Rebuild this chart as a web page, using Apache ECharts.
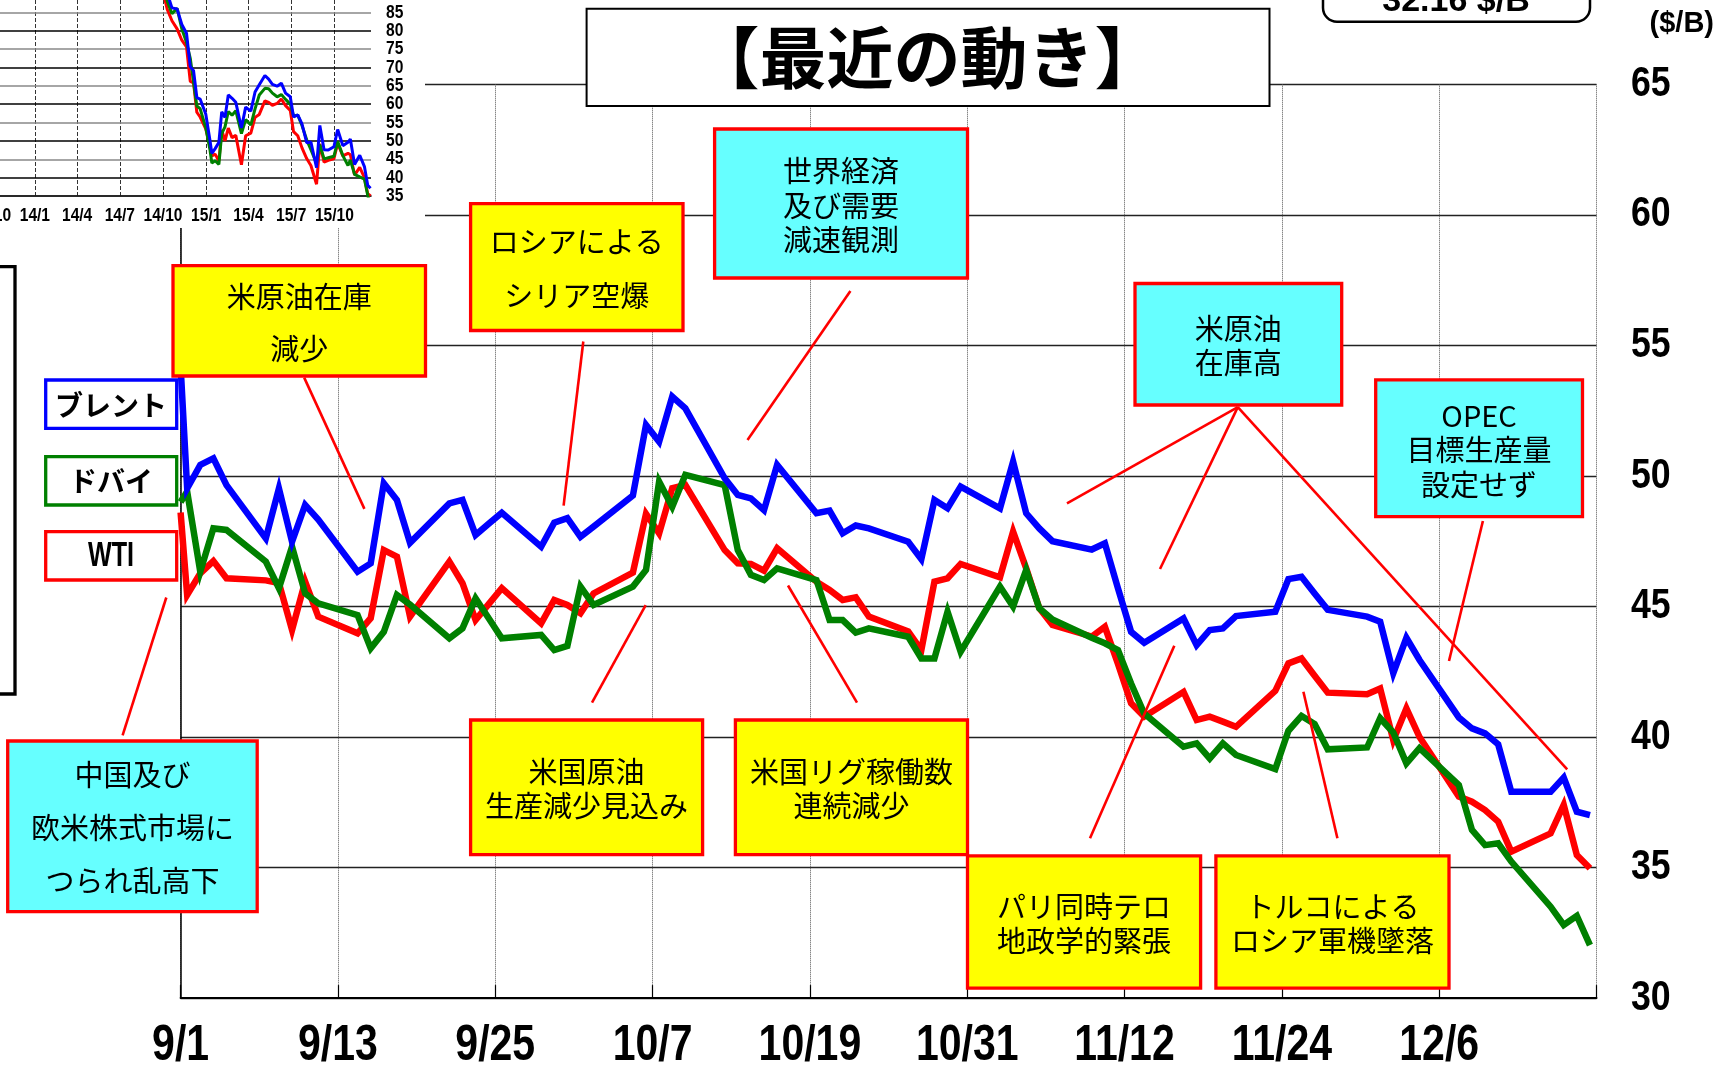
<!DOCTYPE html>
<html><head><meta charset="utf-8">
<script src="https://cdn.jsdelivr.net/npm/echarts@6/dist/echarts.min.js"></script>
<style>html,body{margin:0;padding:0;background:#fff;}#c{width:1716px;height:1067px;}</style>
</head><body><div id="c"></div>
<script>
// ---------- main chart data (x = days after 9/1, trading-day midpoints) ----------
const tickLabels = ['9/1','9/13','9/25','10/7','10/19','10/31','11/12','11/24','12/6'];
const mainYTicks = [30,35,40,45,50,55,60,65];
const tradeDays = [0,0.5,1.5,2.5,3.5,6.5,7.5,8.5,9.5,10.5,13.5,14.5,15.5,16.5,17.5,20.5,21.5,22.5,23.5,24.5,27.5,28.5,29.5,30.5,31.5,34.5,35.5,36.5,37.5,38.5,41.5,42.5,43.5,44.5,45.5,48.5,49.5,50.5,51.5,52.5,55.5,56.5,57.5,58.5,59.5,62.5,63.5,64.5,65.5,66.5,69.5,70.5,71.5,72.5,73.5,76.5,77.5,78.5,79.5,80.5,83.5,84.5,85.5,86.5,87.5,90.5,91.5,92.5,93.5,94.5,97.5,98.5,99.5,100.5,101.5,104.5,105.5,106.5,107.5];
const brent = [54.2,49.52,50.42,50.67,49.65,47.61,49.52,47.48,48.89,48.33,46.33,46.65,49.72,49.08,47.44,48.95,49.08,47.74,48.17,48.59,47.29,48.21,48.38,47.67,48.06,49.25,51.95,51.31,53.04,52.59,49.91,49.27,49.14,48.69,50.42,48.57,48.67,47.8,48.1,47.99,47.48,46.81,49.08,48.76,49.59,48.76,50.55,48.57,47.99,47.5,47.18,47.42,45.69,44.03,43.61,44.54,43.52,44.1,44.16,44.63,44.8,46.05,46.14,45.5,44.87,44.61,44.42,42.45,43.8,42.95,40.75,40.33,40.14,39.72,37.9,37.9,38.45,37.14,37.01];
const dubai = [49.0,49.4,46.33,47.99,47.93,46.72,45.7,47.29,45.5,45.12,44.67,43.4,44.03,45.44,45.07,43.78,44.16,45.31,44.55,43.78,43.91,43.33,43.49,45.76,45.06,45.76,46.4,49.78,48.82,50.04,49.65,47.16,46.21,46.01,46.46,46.01,44.48,44.48,44.0,44.16,43.84,43.01,43.01,44.8,43.27,45.76,45.0,46.4,44.93,44.5,43.8,43.59,43.33,42.05,40.9,39.63,39.76,39.18,39.76,39.31,38.77,40.24,40.81,40.5,39.53,39.6,40.72,40.17,38.99,39.57,38.16,36.44,35.86,35.93,35.23,33.5,32.8,33.15,32.03];
const wti = [48.6,45.44,46.27,46.74,46.08,46.0,45.9,44.1,45.95,44.61,43.97,44.55,47.16,46.91,44.61,46.72,45.89,44.48,45.09,45.7,44.35,45.25,45.06,44.74,45.5,46.3,48.55,47.8,49.53,49.65,47.16,46.65,46.63,46.37,47.23,45.95,45.63,45.25,45.35,44.61,44.04,43.33,45.95,46.08,46.63,46.12,47.87,46.46,44.93,44.29,43.85,44.22,42.8,41.29,40.78,41.73,40.65,40.78,40.59,40.39,41.77,42.82,43.01,42.35,41.7,41.64,41.86,39.88,41.1,40.0,37.72,37.52,37.2,36.76,35.61,36.31,37.4,35.48,34.97];

// ---------- inset (long term) data ----------
const insetDates = ['2014-10-01','2014-10-10','2014-10-20','2014-10-31','2014-11-10','2014-11-20','2014-11-28','2014-12-05','2014-12-12','2014-12-19','2014-12-31','2015-01-09','2015-01-13','2015-01-20','2015-01-28','2015-02-03','2015-02-10','2015-02-17','2015-02-25','2015-03-05','2015-03-17','2015-03-26','2015-04-06','2015-04-15','2015-04-24','2015-05-06','2015-05-14','2015-05-22','2015-06-01','2015-06-10','2015-06-19','2015-06-29','2015-07-06','2015-07-15','2015-07-24','2015-08-03','2015-08-12','2015-08-24','2015-08-31','2015-09-09','2015-09-18','2015-09-30','2015-10-08','2015-10-19','2015-10-30','2015-11-04','2015-11-13','2015-11-24','2015-12-04','2015-12-11','2015-12-17'];
const insetBrent = [94.2,90.2,86.2,85.9,81.7,79.3,70.2,69.1,61.8,61.4,57.3,50.1,46.6,47.9,49.6,57.9,56.4,62.5,61.6,60.5,53.5,59.2,58.1,63.3,65.3,67.8,66.8,65.4,64.9,65.7,63.0,62.0,56.5,57.1,54.6,49.5,49.7,42.7,54.2,47.6,47.5,48.4,53.1,48.7,49.6,50.5,43.6,46.1,43.0,37.9,37.1];
const insetDubai = [92.5,88.0,84.6,86.1,80.5,76.8,72.5,66.0,59.5,58.8,53.6,47.6,44.0,44.6,43.6,52.0,53.8,58.0,57.0,58.2,52.0,55.8,54.3,58.7,62.5,64.3,64.2,63.0,62.0,62.6,61.3,60.0,56.8,57.0,54.2,50.3,47.6,43.9,49.0,45.1,45.4,45.8,49.8,46.0,43.3,44.8,40.9,40.2,39.6,35.2,32.0];
const insetWti = [90.7,85.8,82.7,80.5,77.4,75.6,66.2,65.8,57.8,56.5,53.3,48.4,45.9,46.4,44.5,53.0,50.0,53.5,50.9,51.5,43.5,51.4,52.1,56.4,57.2,60.9,60.5,59.7,60.2,61.4,59.6,58.3,52.5,51.4,48.1,45.2,43.3,38.2,49.2,44.2,44.7,45.1,49.4,45.9,46.6,46.3,40.7,42.8,40.0,35.6,35.0];
const insetTickDates = ['2013-10-01','2014-01-01','2014-04-01','2014-07-01','2014-10-01','2015-01-01','2015-04-01','2015-07-01','2015-10-01'];
const insetTickLabels = ['13/10','14/1','14/4','14/7','14/10','15/1','15/4','15/7','15/10'];
const insetYTicks = [35,40,45,50,55,60,65,70,75,80,85,90];
const insetStart = '2013-09-01', insetEnd = '2015-12-18';

function dayOf(s){const p=s.split('-').map(Number);const b=insetStart.split('-').map(Number);
  return (Date.UTC(p[0],p[1]-1,p[2])-Date.UTC(b[0],b[1]-1,b[2]))/86400000;}
const insetTickDays = insetTickDates.map(dayOf);

const SANS = '"Liberation Sans","Arimo",sans-serif';
const JP = '"Noto Sans CJK JP","Noto Sans",sans-serif';

const chart = echarts.init(document.getElementById('c'), null, {renderer:'canvas'});

function mk(name, arr, color, z){
  return {name, type:'line', xAxisIndex:0, yAxisIndex:0, z, showSymbol:false, symbol:'none', silent:true,
    data: tradeDays.map((d,i)=>[d, arr[i]]), lineStyle:{color, width:6.5, join:'miter'}, animation:false};
}
function mkInset(name, arr, color, extra){
  return Object.assign({name, type:'line', xAxisIndex:1, yAxisIndex:1, z:11, showSymbol:false, symbol:'none', silent:true,
    data: insetDates.map((d,i)=>[dayOf(d), arr[i]]), lineStyle:{color, width:3}, animation:false}, extra||{});
}

const option = {
  animation:false,
  backgroundColor:'#fff',
  grid:[
    {left:180.6, top:84.3, width:1415.9, height:913.8, outerBoundsMode:'none', containLabel:false},
    {left:-22.4, top:-6.07, width:393.4, height:202.07, outerBoundsMode:'none', containLabel:false}
  ],
  xAxis:[
    {type:'value', gridIndex:0, min:0, max:108, interval:12,
     axisLine:{show:true, onZero:false, lineStyle:{color:'#000', width:2}},
     axisTick:{show:true, inside:true, length:13, lineStyle:{color:'#000', width:1.2}},
     axisLabel:{show:false},
     splitLine:{show:true, lineStyle:{color:'#555', width:1, type:[1,1]}}},
    {type:'value', gridIndex:1, min:0, max:dayOf(insetEnd), z:10,
     axisLine:{show:true, onZero:false, lineStyle:{color:'#000', width:1.6}},
     axisTick:{show:false}, axisLabel:{show:false}, splitLine:{show:false}}
  ],
  yAxis:[
    {type:'value', gridIndex:0, position:'right', min:30, max:65, interval:5,
     axisLine:{show:true, lineStyle:{color:'#000', width:1.5}},
     axisTick:{show:false}, axisLabel:{show:false},
     splitLine:{show:true, lineStyle:{color:'#222', width:1.3}}},
    {type:'value', gridIndex:1, position:'right', min:35, max:90, interval:5, z:10,
     axisLine:{show:true, lineStyle:{color:'#000', width:1.6}},
     axisTick:{show:false}, axisLabel:{show:false},
     splitLine:{show:true, lineStyle:{color:['#888','#000'], width:1.6}}}
  ],
  series:[
    mk('WTI', wti, '#ff0000', 2),
    mk('ドバイ', dubai, '#008000', 3),
    mk('ブレント', brent, '#0000ff', 4),
    mkInset('WTI', insetWti, '#ff0000'),
    mkInset('ドバイ', insetDubai, '#008000'),
    mkInset('ブレント', insetBrent, '#0000ff', {markLine:{silent:true, symbol:['none','none'], label:{show:false},
       lineStyle:{type:'dashed', color:'#333', width:1}, data: insetTickDays.map(v=>({xAxis:v})), animation:false}})
  ]
};
chart.setOption(option);

// ---------- annotations & narrow tick labels ----------
const boxes = [
 {x:173, y:265.7, w:252.5, h:110.3, fill:'#ffff00', text:'米原油在庫\n減少', lh:51.3},
 {x:470.6, y:203.6, w:212.4, h:126.9, fill:'#ffff00', text:'ロシアによる\nシリア空爆', lh:53.6},
 {x:714.6, y:129, w:252.9, h:149, fill:'#66ffff', text:'世界経済\n及び需要\n減速観測', lh:34.5},
 {x:1135, y:283.5, w:206.7, h:121.5, fill:'#66ffff', text:'米原油\n在庫高', lh:34},
 {x:1375.7, y:379.8, w:206.8, h:136.8, fill:'#66ffff', text:'OPEC\n目標生産量\n設定せず', lh:34.5},
 {x:7.7, y:741, w:249.5, h:170.6, fill:'#66ffff', text:'中国及び\n欧米株式市場に\nつられ乱高下', lh:53},
 {x:470.6, y:720, w:232, h:134.7, fill:'#ffff00', text:'米国原油\n生産減少見込み', lh:34},
 {x:735.4, y:720, w:232.1, h:134.7, fill:'#ffff00', text:'米国リグ稼働数\n連続減少', lh:34},
 {x:967.5, y:855.8, w:233.1, h:132.4, fill:'#ffff00', text:'パリ同時テロ\n地政学的緊張', lh:34},
 {x:1215.9, y:855.8, w:233.1, h:132.4, fill:'#ffff00', text:'トルコによる\nロシア軍機墜落', lh:34}
];
const callouts = [[304.2,377.6,364.4,508.9],[583.3,341.5,563.6,505.6],[850.4,291.1,747.5,440],[1237.8,407.1,1067,503.4],[1237.8,407.1,1160,569],[1237.8,407.1,1567.2,769.4],[1482.9,521,1449,661],[122.6,735.4,166.3,597.5],[592,702.6,645.7,605.2],[857,702.6,788,585.5],[1090,838.3,1174.3,645.7],[1337.4,838.3,1303.4,691.7]];
const legendBoxes = [
 {y:380, color:'#0000ff', text:'ブレント', font:JP, size:28, sx:1},
 {y:456.7, color:'#008000', text:'ドバイ', font:JP, size:28, sx:1},
 {y:531.7, color:'#ff0000', text:'WTI', font:SANS, size:35, sx:0.72}
];

const g = [];
g.push({type:'rect', z:3, silent:true, shape:{x:0,y:0,width:425,height:228}, style:{fill:'#fff'}});
g.push({type:'rect', z:100, silent:true, shape:{x:-30,y:266.7,width:45,height:427.3}, style:{fill:'none', stroke:'#000', lineWidth:3.3}});
callouts.forEach(c=>g.push({type:'line', z:99, silent:true, shape:{x1:c[0],y1:c[1],x2:c[2],y2:c[3]}, style:{stroke:'#ff0000', lineWidth:2.6}}));
boxes.forEach(b=>{
  g.push({type:'rect', z:100, silent:true, shape:{x:b.x,y:b.y,width:b.w,height:b.h}, style:{fill:b.fill, stroke:'#ff0000', lineWidth:3.3}});
  g.push({type:'text', z:101, silent:true, x:b.x+b.w/2, y:b.y+b.h/2+2, style:{text:b.text, fill:'#000', fontSize:29, fontFamily:JP, fontWeight:'normal', align:'center', verticalAlign:'middle', lineHeight:b.lh}});
});
legendBoxes.forEach(l=>{
  g.push({type:'rect', z:100, silent:true, shape:{x:45.7,y:l.y,width:131,height:48.3}, style:{fill:'#fff', stroke:l.color, lineWidth:3.3}});
  g.push({type:'text', z:101, silent:true, x:111, y:l.y+25, scaleX:l.sx, style:{text:l.text, fill:'#000', fontSize:l.size, fontFamily:l.font, fontWeight:'bold', align:'center', verticalAlign:'middle'}});
});
g.push({type:'rect', z:100, silent:true, shape:{x:586.6,y:8.8,width:682.9,height:97.2}, style:{fill:'#fff', stroke:'#000', lineWidth:2}});
g.push({type:'text', z:101, silent:true, x:927, y:58, style:{text:'【最近の動き】', fill:'#000', fontSize:67, fontFamily:JP, fontWeight:'bold', align:'center', verticalAlign:'middle'}});
g.push({type:'rect', z:100, silent:true, shape:{x:1323,y:-40,width:267,height:61.7,r:14}, style:{fill:'#fff', stroke:'#000', lineWidth:2.5}});
g.push({type:'text', z:101, silent:true, x:1456, y:19, style:{text:'32.16 $/B', fill:'#000', fontSize:34, fontFamily:SANS, fontWeight:'bold', align:'center', verticalAlign:'bottom'}});
g.push({type:'text', z:101, silent:true, x:1714, y:24, style:{text:'($/B)', fill:'#000', fontSize:29, fontFamily:SANS, fontWeight:'bold', align:'right', verticalAlign:'middle'}});

// tick labels placed through the axes' own scales (condensed look via scaleX)
tickLabels.forEach((t,i)=>{
  const px = chart.convertToPixel({xAxisIndex:0}, i*12);
  g.push({type:'text', z:101, silent:true, x:px, y:1046, scaleX:0.82, style:{text:t, fill:'#000', fontSize:50, fontFamily:SANS, fontWeight:'bold', align:'center', verticalAlign:'middle'}});
});
mainYTicks.forEach(v=>{
  const py = chart.convertToPixel({yAxisIndex:0}, v);
  g.push({type:'text', z:101, silent:true, x:1631, y:py, scaleX:0.85, style:{text:String(v), fill:'#000', fontSize:42, fontFamily:SANS, fontWeight:'bold', align:'left', verticalAlign:'middle'}});
});
insetYTicks.forEach(v=>{
  const py = chart.convertToPixel({yAxisIndex:1}, v);
  g.push({type:'text', z:12, silent:true, x:386, y:py, scaleX:0.82, style:{text:String(v), fill:'#000', fontSize:19, fontFamily:SANS, fontWeight:'bold', align:'left', verticalAlign:'middle'}});
});
insetTickDays.forEach((d,i)=>{
  const px = chart.convertToPixel({xAxisIndex:1}, d);
  g.push({type:'text', z:12, silent:true, x:px, y:216, scaleX:0.82, style:{text:insetTickLabels[i], fill:'#000', fontSize:19, fontFamily:SANS, fontWeight:'bold', align:'center', verticalAlign:'middle'}});
});

chart.setOption({graphic:{elements:g}});
</script></body></html>
